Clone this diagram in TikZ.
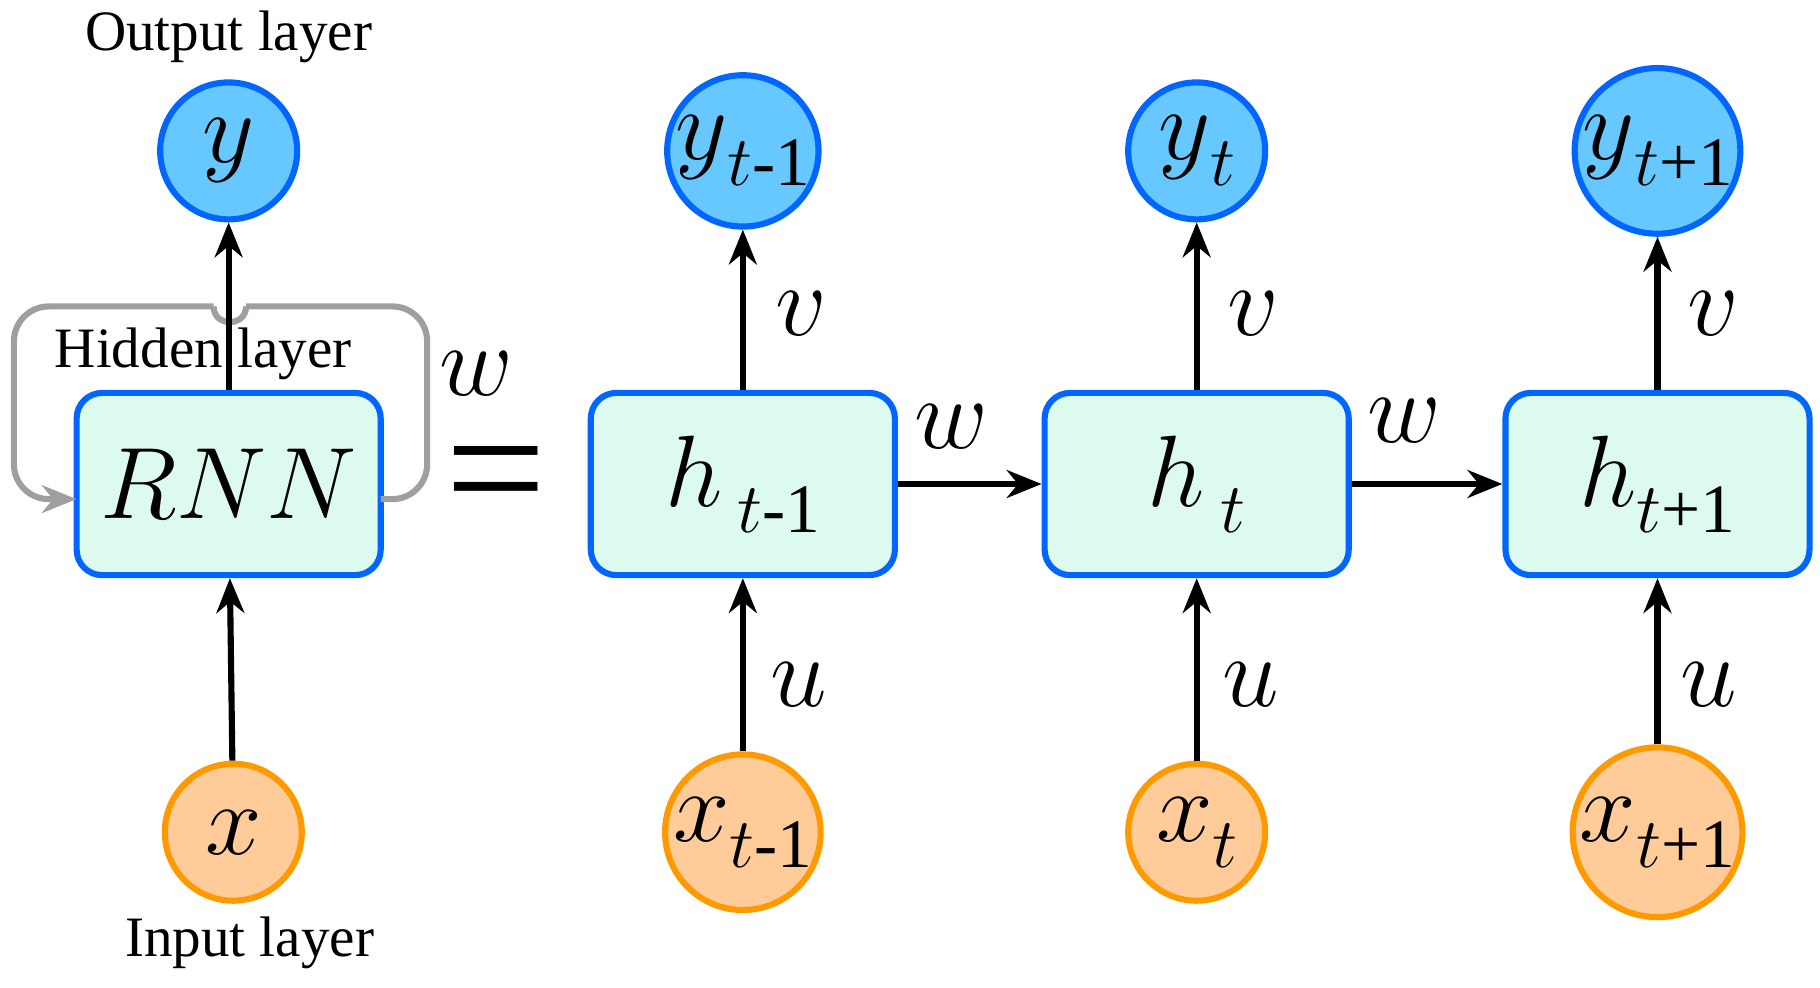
\documentclass[tikz,border=0pt]{standalone}
\usepackage{fontspec}
\setmainfont{Liberation Serif}
\usetikzlibrary{arrows.meta}
\definecolor{hidfill}{RGB}{220,250,238}
\definecolor{hidline}{RGB}{0,102,255}
\definecolor{outfill}{RGB}{102,200,255}
\definecolor{infill}{RGB}{255,204,153}
\definecolor{inline}{RGB}{255,153,0}
\newcommand{\sub}[1]{\raisebox{-0.6ex}{\fontsize{17}{18}\selectfont #1}}
\tikzset{
    hid/.style={draw=hidline, line width=1.5pt, fill=hidfill, rounded corners=2.2mm, minimum width=26.2mm, minimum height=15.7mm, font=\fontsize{23}{24}\selectfont},
    outn/.style={draw=hidline, line width=1.5pt, fill=outfill, circle, minimum size=11.8mm, inner sep=0pt, font=\fontsize{23}{24}\selectfont},
    inn/.style={draw=inline, line width=1.5pt, fill=infill, circle, minimum size=11.8mm, inner sep=0pt, font=\fontsize{23}{24}\selectfont},
    arr/.style={-{Stealth[length=3mm, width=2.4mm]}, line width=1.5pt},
    wlab/.style={font=\fontsize{23}{24}\selectfont},
    txt/.style={font=\fontsize{14}{16}\selectfont}
}
\begin{document}
\begin{tikzpicture}[x=0.1mm, y=-0.1mm]
    \useasboundingbox (0,0) rectangle (1568,851);

    % folded network
    \node[hid] (rnn) at (197,417) {$RNN$};
    \node[outn] (y) at (197,130) {$y$};
    \node[inn] (x) at (201,717) {$x$};
    \node[txt] (outlab) at (197,32) {Output layer};
    \node[txt] (inlab) at (215,812) {Input layer};
    \node[txt] (hidlab) at (175,305) {Hidden layer};
    \node[wlab] (wloop) at (410,322) {$w$};
    \coordinate (loopin) at (66,430);
    \draw[gray!75, line width=1.5pt, rounded corners=3mm]
        (328,430) -- (368,430) -- (368,264) -- (212,264);
    \draw[gray!75, line width=1.5pt] (212,264) .. controls (212,282) and (184,282) .. (184,264);
    \draw[gray!75, line width=1.5pt, rounded corners=3mm, -{Stealth[length=3mm, width=2.4mm]}]
        (184,264) -- (12,264) -- (12,430) -- (loopin);
    \draw[arr] (x) -- (rnn);
    \draw[arr] (rnn) -- (y);

    \node[font=\fontsize{44}{44}\selectfont] (eq) at (427,420) {=};

    % unfolded network
    \node[hid] (h1) at (640,417) {$h$\,\sub{$t$-1}};
    \node[hid] (h2) at (1031,417) {$h$\,\sub{$t$}};
    \node[hid] (h3) at (1428,417) {$h$\sub{$t$+1}};

    \node[outn] (y1) at (640,130) {$y$\sub{$t$-1}};
    \node[outn] (y2) at (1031,130) {$y$\sub{$t$}};
    \node[outn] (y3) at (1428,130) {$y$\sub{$t$+1}};

    \node[inn] (x1) at (640,717) {$x$\sub{$t$-1}};
    \node[inn] (x2) at (1031,717) {$x$\sub{$t$}};
    \node[inn] (x3) at (1428,717) {$x$\sub{$t$+1}};

    \draw[arr] (h1) -- (y1);
    \draw[arr] (h2) -- (y2);
    \draw[arr] (h3) -- (y3);
    \draw[arr] (x1) -- (h1);
    \draw[arr] (x2) -- (h2);
    \draw[arr] (x3) -- (h3);
    \draw[arr] (h1) -- (h2);
    \draw[arr] (h2) -- (h3);

    \node[wlab] (v1) at (690,270) {$v$};
    \node[wlab] (v2) at (1080,270) {$v$};
    \node[wlab] (v3) at (1476,270) {$v$};
    \node[wlab] (u1) at (688,590) {$u$};
    \node[wlab] (u2) at (1078,590) {$u$};
    \node[wlab] (u3) at (1472,590) {$u$};
    \node[wlab] (w1) at (820,368) {$w$};
    \node[wlab] (w2) at (1210,362) {$w$};
\end{tikzpicture}
\end{document}
